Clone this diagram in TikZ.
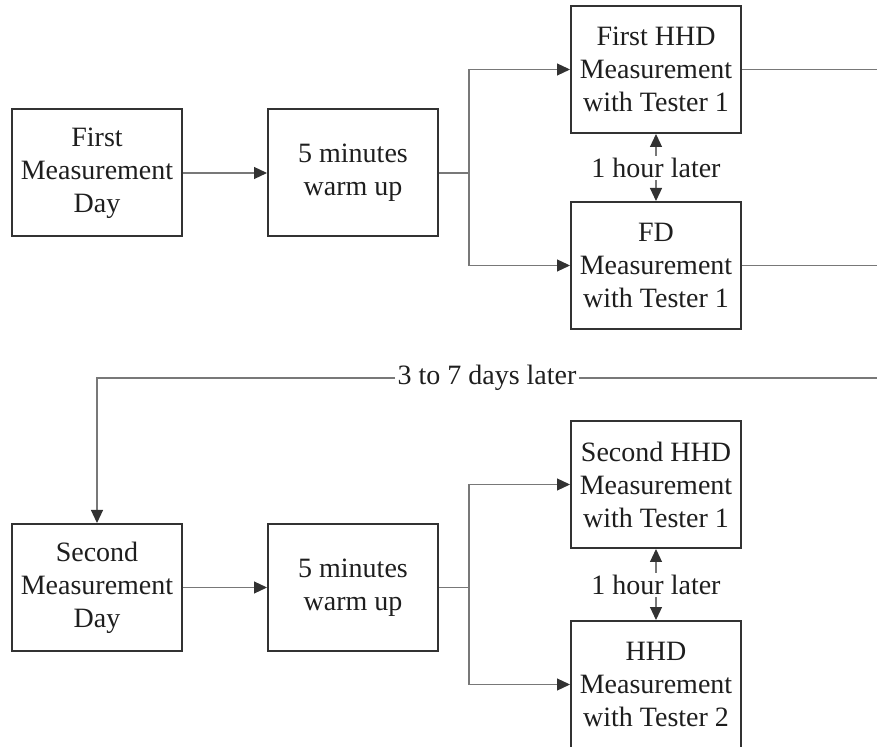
\documentclass[tikz,border=0pt]{standalone}
\usepackage{fontspec}
\setmainfont{Liberation Serif}
\usetikzlibrary{arrows.meta}
\definecolor{boxline}{RGB}{50,50,50}
\definecolor{conn}{RGB}{120,120,120}
\definecolor{txt}{RGB}{30,30,30}
\begin{document}
\begin{tikzpicture}[x=0.5pt,y=-0.5pt,
  stepbox/.style={draw=boxline,line width=1pt,minimum width=85pt,minimum height=63.5pt,
    align=center,inner sep=0pt,text=txt,font=\fontsize{14}{16.5}\selectfont},
  lbl/.style={text=txt,inner sep=1pt,font=\fontsize{14}{16.5}\selectfont},
  conn/.style={draw=conn,line width=0.6pt},
  arr/.style={conn,-{Triangle[length=6.5pt,width=6pt,fill=boxline,color=boxline]}}]
\useasboundingbox (0,0) rectangle (877,747);
\begin{scope}
\clip (0,0) rectangle (877,747);
% first day
\node[stepbox] (fd) at (97,173) {\raisebox{-1.5pt}{\parbox{80pt}{\centering First\\Measurement\\Day}}};
\node[stepbox] (w1) at (353,173) {5 minutes\\warm up};
\node[stepbox] (h1) at (656,69.5) {First HHD\\Measurement\\with Tester 1};
\node[stepbox] (f1) at (656,265.5) {FD\\Measurement\\with Tester 1};
\node[lbl] (l1) at (656,168) {1 hour later};
% second day
\node[stepbox] (sd) at (97,587.5) {Second\\Measurement\\Day};
\node[stepbox] (w2) at (353,587.5) {5 minutes\\warm up};
\node[stepbox] (h2) at (656,484.5) {Second HHD\\Measurement\\with Tester 1};
\node[stepbox] (h3) at (656,684.5) {HHD\\Measurement\\with Tester 2};
\node[lbl] (l2) at (656,585) {1 hour later};
% gap label
\node[lbl] (gap) at (487,378) {3 to 7 days later};
\coordinate (r1) at (877,69.5);
\coordinate (r2) at (877,265.5);
\coordinate (r3) at (877,378);
\coordinate (b1) at (469,173);
\coordinate (b2) at (469,587.5);
\coordinate (c3) at (97,378);
% connectors first day
\draw[arr] (fd) -- (w1);
\draw[conn] (w1) -- (b1);
\draw[arr] (b1) |- (h1);
\draw[arr] (b1) |- (f1);
\draw[arr] (l1) -- (h1);
\draw[arr] (l1) -- (f1);
\draw[conn] (h1) -- (r1);
\draw[conn] (f1) -- (r2);
% gap
\draw[conn] (r3) -- (gap);
\draw[arr] (gap) -- (c3) -- (sd);
% connectors second day
\draw[arr] (sd) -- (w2);
\draw[conn] (w2) -- (b2);
\draw[arr] (b2) |- (h2);
\draw[arr] (b2) |- (h3);
\draw[arr] (l2) -- (h2);
\draw[arr] (l2) -- (h3);
\end{scope}
\end{tikzpicture}
\end{document}
